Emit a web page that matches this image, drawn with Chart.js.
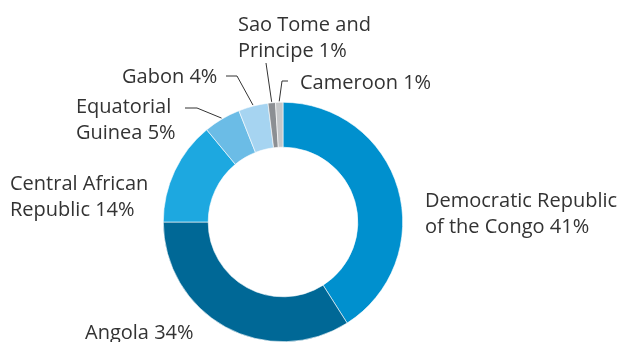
<!DOCTYPE html>
<html>
<head>
<meta charset="utf-8">
<script src="https://cdn.jsdelivr.net/npm/chart.js@4/dist/chart.umd.min.js"></script>
<style>
  html, body { margin: 0; padding: 0; background: #fff; }
  #wrap { position: relative; width: 627px; height: 342px; }
</style>
</head>
<body>
<div id="wrap"><canvas id="chart"></canvas></div>
<script>
// '\n' marks where the outside label wraps
const categories = [
  'Democratic Republic\nof the Congo',
  'Angola',
  'Central African\nRepublic',
  'Equatorial\nGuinea',
  'Gabon',
  'Sao Tome and\nPrincipe',
  'Cameroon',
];
const shares = [41, 34, 14, 5, 4, 1, 1];
const colors = ['#0090ce', '#006896', '#1da8e0', '#6bbce6', '#a6d4f1', '#8c8f93', '#c5c7c9'];

// label placement: x, first baseline, optional leader elbow points (leader ends on the ring)
const labelSpots = [
  { x: 425, y: 207, leader: null },
  { x: 85, y: 339, leader: null },
  { x: 10, y: 190, leader: null },
  { x: 76, y: 113, leader: [[185, 108], [197, 108]] },
  { x: 122, y: 83, leader: [[226, 76], [237, 76]] },
  { x: 238, y: 31, leader: [[266, 63]] },
  { x: 300, y: 89, leader: [[288, 81], [282, 81]] },
];

const FONT = '20px "Open Sans", "Noto Sans", sans-serif';
const LINE_H = 26;

const outsideLabels = {
  id: 'outsideLabels',
  afterDatasetsDraw(chart) {
    const { ctx } = chart;
    const arcs = chart.getDatasetMeta(0).data;
    ctx.save();
    ctx.font = FONT;
    ctx.fillStyle = '#333333';
    ctx.textBaseline = 'alphabetic';
    ctx.textAlign = 'left';
    arcs.forEach((arc, i) => {
      const spot = labelSpots[i];
      const text = categories[i] + ' ' + shares[i] + '%';
      text.split('\n').forEach((line, k) => {
        ctx.fillText(line, spot.x, spot.y + k * LINE_H);
      });
      if (spot.leader) {
        const { x, y, startAngle, endAngle, outerRadius } = arc.getProps(['x', 'y', 'startAngle', 'endAngle', 'outerRadius'], true);
        const mid = (startAngle + endAngle) / 2;
        const ex = x + Math.cos(mid) * (outerRadius + 1);
        const ey = y + Math.sin(mid) * (outerRadius + 1);
        ctx.beginPath();
        ctx.strokeStyle = '#333333';
        ctx.lineWidth = 1;
        spot.leader.forEach(([px, py], k) => (k === 0 ? ctx.moveTo(px, py) : ctx.lineTo(px, py)));
        ctx.lineTo(ex, ey);
        ctx.stroke();
      }
    });
    ctx.restore();
  },
};

new Chart(document.getElementById('chart'), {
  type: 'doughnut',
  data: {
    labels: categories.map(c => c.replace('\n', ' ')),
    datasets: [{
      data: shares,
      backgroundColor: colors,
      borderColor: '#ffffff',
      borderWidth: 0.6,
      hoverOffset: 0,
    }],
  },
  options: {
    responsive: true,
    maintainAspectRatio: false,
    animation: false,
    cutout: '62.5%',
    layout: { padding: { top: 102, bottom: 0, left: 163, right: 224 } },
    plugins: {
      legend: { display: false },
      tooltip: { enabled: false },
    },
  },
  plugins: [outsideLabels],
});
</script>
</body>
</html>
